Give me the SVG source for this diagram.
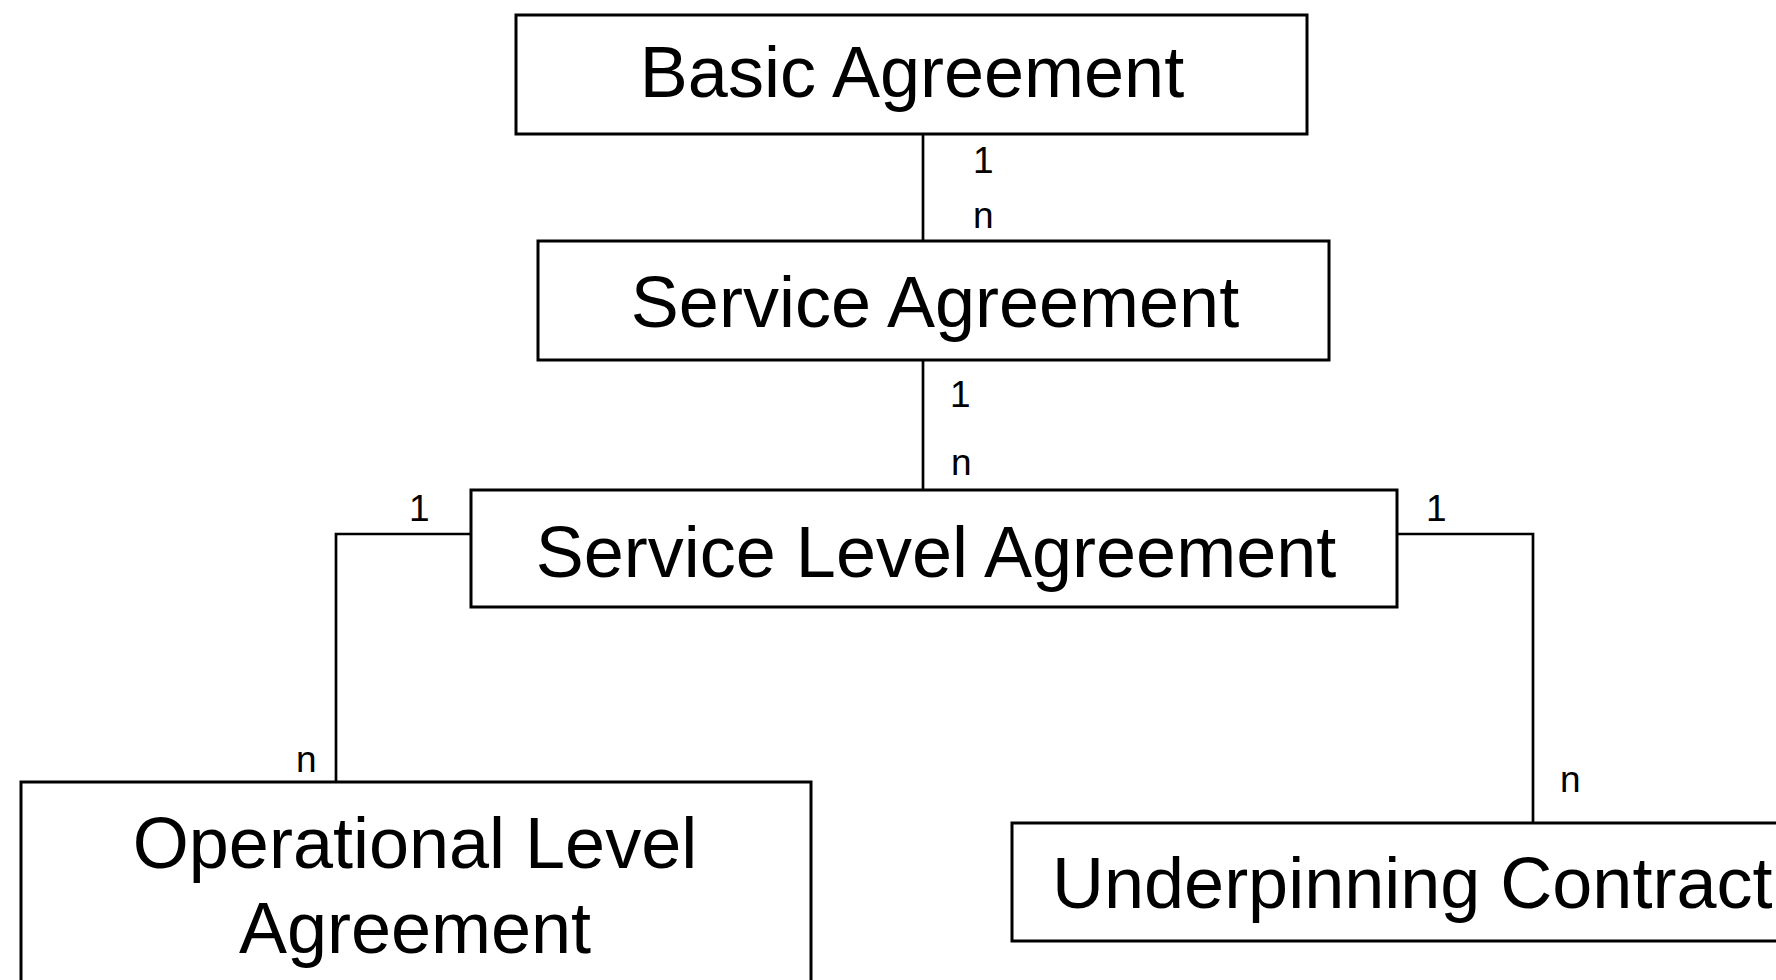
<svg xmlns="http://www.w3.org/2000/svg" width="1776" height="980" viewBox="0 0 1776 980">
<style>
.box{fill:#fff;stroke:#000;stroke-width:3}
.t{font-family:"Liberation Sans",Arial,sans-serif;font-size:72px;fill:#000;text-anchor:middle}
.l{font-family:"Liberation Sans",Arial,sans-serif;font-size:37px;fill:#000}
.c{fill:none;stroke:#000;stroke-width:2.7}
</style>
<rect width="1776" height="980" fill="#fff"/>
<g id="connectors">
<line class="c" x1="923" y1="127" x2="923" y2="241"/>
<line class="c" x1="923" y1="353" x2="923" y2="490"/>
<polyline class="c" points="471,534 336,534 336,782"/>
<polyline class="c" points="1397,534 1533,534 1533,828"/>
<text class="l" x="973" y="173">1</text>
<text class="l" x="973" y="228">n</text>
<text class="l" x="950" y="407">1</text>
<text class="l" x="951" y="475">n</text>
<text class="l" x="409" y="521">1</text>
<text class="l" x="1426" y="521">1</text>
<text class="l" x="296" y="772">n</text>
<text class="l" x="1560" y="792">n</text>
</g>
<g id="basic">
<rect class="box" x="516" y="15" width="791" height="119"/>
<text class="t" x="912" y="97">Basic Agreement</text>
</g>
<g id="service">
<rect class="box" x="538" y="241" width="791" height="119"/>
<text class="t" x="935" y="327">Service Agreement</text>
</g>
<g id="sla">
<rect class="box" x="471" y="490" width="926" height="117"/>
<text class="t" x="936" y="577">Service Level Agreement</text>
</g>
<g id="ola">
<rect class="box" x="21" y="782" width="790" height="240"/>
<text class="t" x="415" y="868">Operational Level</text>
<text class="t" x="415" y="953">Agreement</text>
</g>
<g id="uc">
<rect class="box" x="1012" y="823" width="800" height="118"/>
<text class="t" x="1052" y="908" style="text-anchor:start">Underpinning Contract</text>
</g>
</svg>
